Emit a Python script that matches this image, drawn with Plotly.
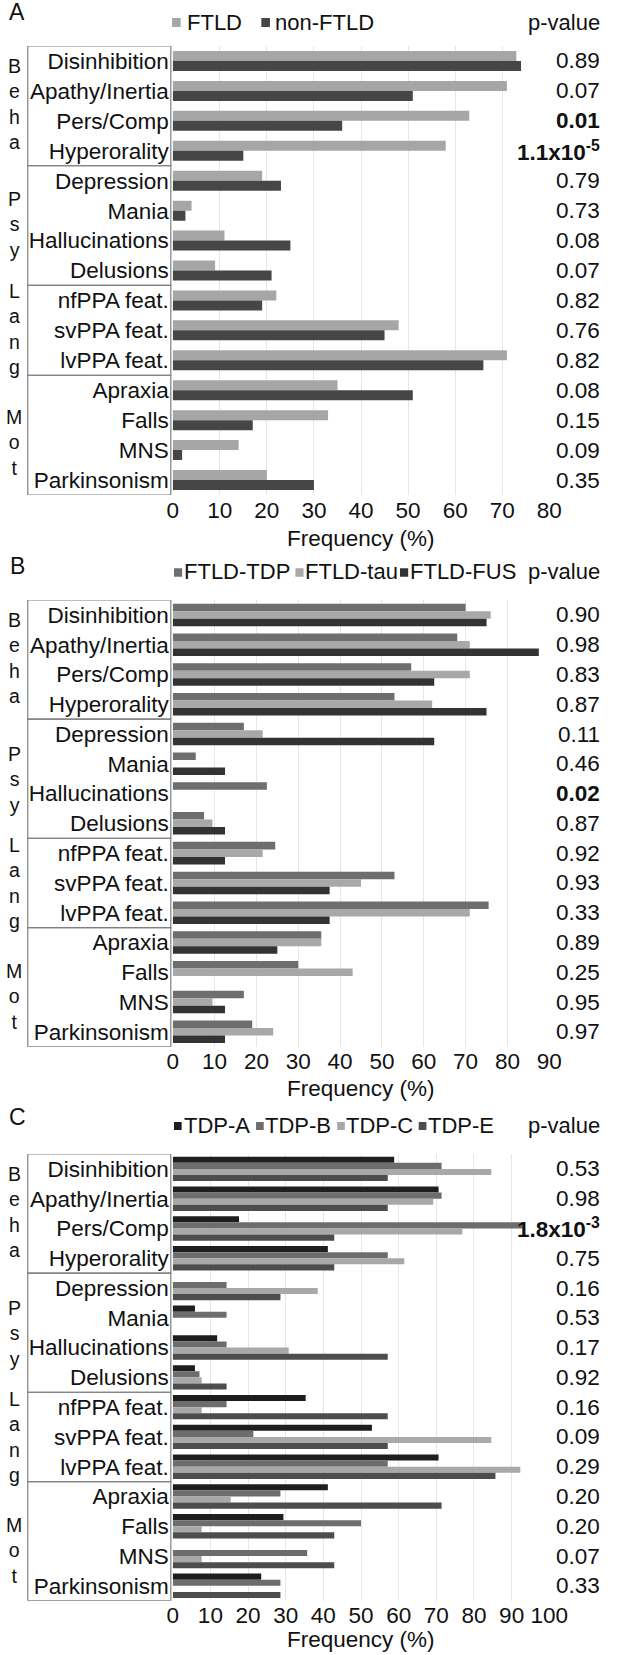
import plotly.graph_objects as go

# ---------------- data ----------------
categories = ["Disinhibition", "Apathy/Inertia", "Pers/Comp", "Hyperorality",
              "Depression", "Mania", "Hallucinations", "Delusions",
              "nfPPA feat.", "svPPA feat.", "lvPPA feat.",
              "Apraxia", "Falls", "MNS", "Parkinsonism"]
group_names = ["Beha", "Psy", "Lang", "Mot"]
group_sizes = [4, 4, 3, 4]

# Panel A
ftld = [73, 71, 63, 58, 19, 4, 11, 9, 22, 48, 71, 35, 33, 14, 20]
non_ftld = [74, 51, 36, 15, 23, 2.7, 25, 21, 19, 45, 66, 51, 17, 2, 30]
pvalues_a = ["0.89", "0.07", "0.01", "1.1x10<sup>-5</sup>", "0.79", "0.73", "0.08", "0.07",
             "0.82", "0.76", "0.82", "0.08", "0.15", "0.09", "0.35"]
bold_a = [0, 0, 1, 1, 0, 0, 0, 0, 0, 0, 0, 0, 0, 0, 0]

# Panel B
ftld_tdp = [70, 68, 57, 53, 17, 5.5, 22.5, 7.5, 24.5, 53, 75.5, 35.5, 30, 17, 19]
ftld_tau = [76, 71, 71, 62, 21.5, 0, 0, 9.5, 21.5, 45, 71, 35.5, 43, 9.5, 24]
ftld_fus = [75, 87.5, 62.5, 75, 62.5, 12.5, 0, 12.5, 12.5, 37.5, 37.5, 25, 0, 12.5, 12.5]
pvalues_b = ["0.90", "0.98", "0.83", "0.87", "0.11", "0.46", "0.02", "0.87",
             "0.92", "0.93", "0.33", "0.89", "0.25", "0.95", "0.97"]
bold_b = [0, 0, 0, 0, 0, 0, 1, 0, 0, 0, 0, 0, 0, 0, 0]

# Panel C
tdp_a = [58.8, 70.6, 17.6, 41.2, 0, 5.9, 11.8, 5.9, 35.3, 52.9, 70.6, 41.2, 29.4, 0, 23.5]
tdp_b = [71.4, 71.4, 92.9, 57.1, 14.3, 14.3, 14.3, 7.1, 14.3, 21.4, 57.1, 28.6, 50, 35.7, 28.6]
tdp_c = [84.6, 69.2, 76.9, 61.5, 38.5, 0, 30.8, 7.7, 7.7, 84.6, 92.3, 15.4, 7.7, 7.7, 0]
tdp_e = [57.1, 57.1, 42.9, 42.9, 28.6, 0, 57.1, 14.3, 57.1, 57.1, 85.7, 71.4, 42.9, 42.9, 28.6]
pvalues_c = ["0.53", "0.98", "1.8x10<sup>-3</sup>", "0.75", "0.16", "0.53", "0.17", "0.92",
             "0.16", "0.09", "0.29", "0.20", "0.20", "0.07", "0.33"]
bold_c = [0, 0, 1, 0, 0, 0, 0, 0, 0, 0, 0, 0, 0, 0, 0]

x_max_a, x_max_b, x_max_c = 80, 90, 100

# ---------------- layout helpers ----------------
W, H = 623, 1655
FONT = "Liberation Sans, Arial, Helvetica, sans-serif"
FS = 22.5
LFS = 22
TXT = "#111111"


def px(x):
    return x / W


def py(y):
    return 1 - y / H


X0, X1 = 173.7, 566.0
BOX_L, BOX_R = 22.7, 171.7

panels = [
    dict(label="A", top=46, bottom=495, xmax=x_max_a, fill=0.668,
         series=[("FTLD", ftld, "#a6a6a6"), ("non-FTLD", non_ftld, "#464646")],
         pvals=pvalues_a, bold=bold_a, label_y=12.5, legend_y=22, sq_y=22.5,
         legend_x=[(173, 187), (266, 278)], sq=9, title_y=538.5),
    dict(label="B", top=600, bottom=1046.7, xmax=x_max_b, fill=0.756,
         series=[("FTLD-TDP", ftld_tdp, "#6e6e6e"), ("FTLD-tau", ftld_tau, "#a8a8a8"),
                 ("FTLD-FUS", ftld_fus, "#333333")],
         pvals=pvalues_b, bold=bold_b, label_y=565.8, legend_y=572, sq_y=572.5,
         legend_x=[(175, 183), (301.5, 309.5), (410.5, 418.5)], sq=8.5, title_y=1088),
    dict(label="C", top=1154, bottom=1600.7, xmax=x_max_c, fill=0.82,
         series=[("TDP-A", tdp_a, "#1e1e1e"), ("TDP-B", tdp_b, "#6d6d6d"),
                 ("TDP-C", tdp_c, "#a8a8a8"), ("TDP-E", tdp_e, "#4d4d4d")],
         pvals=pvalues_c, bold=bold_c, label_y=1116.7, legend_y=1125, sq_y=1126,
         legend_x=[(175, 183), (260.5, 268), (345, 352.3), (430, 437.5)], sq=8, title_y=1639.5),
]

# centre of each stacked group-letter block, relative to panel top (px)
letters_center = {"Beha": 58, "Psy": 179, "Lang": 283, "Mot": 396}
LETTER_FS = 19.5

fig = go.Figure()
shapes = []
annotations = []
layout_axes = {}

for k, p in enumerate(panels):
    idx = "" if k == 0 else str(k + 1)
    xa, ya = "x" + idx, "y" + idx
    n = len(p["series"])
    w = p["fill"] / n
    for i, (name, vals, col) in enumerate(p["series"]):
        fig.add_trace(go.Bar(
            y=categories, x=vals, name=name, orientation="h",
            marker=dict(color=col, line=dict(width=0)),
            width=w, offset=-p["fill"] / 2 + i * w,
            xaxis=xa, yaxis=ya, showlegend=False,
        ))
    layout_axes["xaxis" + idx] = dict(
        domain=[px(X0), px(X1)], range=[0, p["xmax"]], anchor=ya,
        tickmode="linear", tick0=0, dtick=10, showgrid=True, gridcolor="#e6e6e6",
        gridwidth=1, zeroline=False, showline=False, ticks="", ticklabelstandoff=-1,
        tickfont=dict(family=FONT, size=FS, color=TXT), fixedrange=True,
    )
    layout_axes["yaxis" + idx] = dict(
        domain=[py(p["bottom"]), py(p["top"])], anchor=xa, type="category",
        categoryorder="array", categoryarray=categories,
        range=[len(categories) - 0.5, -0.5], showgrid=False, zeroline=False,
        showline=False, ticks="", ticklabelstandoff=3,
        tickfont=dict(family=FONT, size=FS, color=TXT), fixedrange=True,
    )
    # group boxes and stacked group letters
    start = 0
    for g, size in zip(group_names, group_sizes):
        shapes.append(dict(type="rect", xref="paper", yref=ya,
                           x0=px(BOX_L), x1=px(BOX_R), y0=start - 0.5, y1=start + size - 0.5,
                           line=dict(color="#808080", width=1.2), fillcolor="rgba(0,0,0,0)"))
        annotations.append(dict(text="<br>".join(g), xref="paper", yref="paper",
                                x=px(8.5), y=py(p["top"] + letters_center[g]),
                                xanchor="center", yanchor="middle", align="center",
                                showarrow=False,
                                font=dict(family=FONT, size=LETTER_FS, color=TXT)))
        start += size
    # p-values (significant ones in bold)
    for cat, pv, b in zip(categories, p["pvals"], p["bold"]):
        annotations.append(dict(text=pv, xref="paper", yref=ya, x=px(621), y=cat,
                                xanchor="right", yanchor="middle", showarrow=False,
                                font=dict(family=FONT, size=FS, color=TXT,
                                          weight="bold" if b else "normal")))
    annotations.append(dict(text="p-value", xref="paper", yref="paper", x=px(621),
                            y=py(p["legend_y"]), xanchor="right", yanchor="middle",
                            showarrow=False, font=dict(family=FONT, size=LFS, color=TXT)))
    # panel letter
    annotations.append(dict(text=p["label"], xref="paper", yref="paper", x=px(11.5),
                            y=py(p["label_y"]), xanchor="center", yanchor="middle",
                            showarrow=False, font=dict(family=FONT, size=23, color=TXT)))
    # axis title
    annotations.append(dict(text="Frequency (%)", xref="paper", yref="paper",
                            x=px((X0 + X1) / 2), y=py(p["title_y"]), xanchor="center",
                            yanchor="middle", showarrow=False,
                            font=dict(family=FONT, size=FS, color=TXT)))
    # legend (coloured squares + names)
    s = p["sq"]
    for (sx, tx), (name, vals, col) in zip(p["legend_x"], p["series"]):
        shapes.append(dict(type="rect", xref="paper", yref="paper",
                           x0=px(sx), x1=px(sx + s), y0=py(p["sq_y"] + s / 2),
                           y1=py(p["sq_y"] - s / 2), line=dict(width=0), fillcolor=col))
        annotations.append(dict(text=name, xref="paper", yref="paper", x=px(tx),
                                y=py(p["legend_y"]), xanchor="left", yanchor="middle",
                                showarrow=False, font=dict(family=FONT, size=LFS, color=TXT)))

fig.update_layout(
    width=W, height=H, margin=dict(l=0, r=0, t=0, b=0),
    paper_bgcolor="white", plot_bgcolor="white",
    barmode="overlay", showlegend=False,
    font=dict(family=FONT, size=FS, color=TXT),
    shapes=shapes, annotations=annotations, **layout_axes,
)

# static plot (no mode bar); remove the browser's default 8px page margin
fig.write_html(
    "out.html",
    config={"staticPlot": True, "displayModeBar": False},
    post_script="document.body.style.margin='0px';document.body.style.padding='0px';"
                "document.body.style.overflow='hidden';",
)
